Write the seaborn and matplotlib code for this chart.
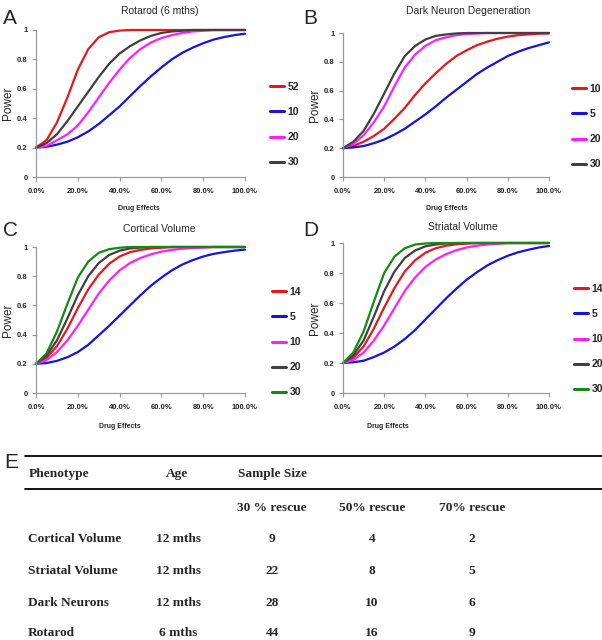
import numpy as np
import pandas as pd
import matplotlib
matplotlib.use("Agg")
import matplotlib.pyplot as plt
import seaborn as sns
from matplotlib.ticker import FuncFormatter
from matplotlib.lines import Line2D

# drug effect (fraction rescued), read every 5 %
effects = [0.00, 0.05, 0.10, 0.15, 0.20, 0.25, 0.30, 0.35, 0.40, 0.45, 0.50,
           0.55, 0.60, 0.65, 0.70, 0.75, 0.80, 0.85, 0.90, 0.95, 1.00]

# A: Rotarod (6 mths)
rot_52 = [0.20, 0.25, 0.37, 0.54, 0.73, 0.87, 0.95, 0.985, 0.996, 1.0, 1.0,
          1.0, 1.0, 1.0, 1.0, 1.0, 1.0, 1.0, 1.0, 1.0, 1.0]
rot_10 = [0.20, 0.205, 0.22, 0.24, 0.27, 0.31, 0.36, 0.42, 0.48, 0.55, 0.62,
          0.685, 0.745, 0.80, 0.845, 0.88, 0.91, 0.935, 0.952, 0.965, 0.975]
rot_20 = [0.20, 0.21, 0.25, 0.29, 0.35, 0.44, 0.54, 0.64, 0.73, 0.81, 0.87,
          0.915, 0.945, 0.965, 0.98, 0.99, 0.995, 1.0, 1.0, 1.0, 1.0]
rot_30 = [0.20, 0.23, 0.29, 0.38, 0.48, 0.58, 0.68, 0.77, 0.84, 0.89, 0.93,
          0.96, 0.98, 0.99, 0.995, 1.0, 1.0, 1.0, 1.0, 1.0, 1.0]

# B: Dark Neuron Degeneration
dark_10 = [0.20, 0.215, 0.245, 0.285, 0.335, 0.405, 0.48, 0.57, 0.65, 0.72, 0.785,
           0.84, 0.88, 0.915, 0.94, 0.96, 0.975, 0.985, 0.99, 0.995, 0.997]
dark_5 = [0.20, 0.205, 0.215, 0.235, 0.26, 0.295, 0.335, 0.385, 0.435, 0.49, 0.55,
          0.605, 0.66, 0.715, 0.76, 0.80, 0.84, 0.87, 0.895, 0.915, 0.935]
dark_20 = [0.20, 0.23, 0.29, 0.38, 0.49, 0.63, 0.76, 0.85, 0.91, 0.95, 0.97,
           0.985, 0.993, 0.997, 1.0, 1.0, 1.0, 1.0, 1.0, 1.0, 1.0]
dark_30 = [0.20, 0.245, 0.32, 0.44, 0.58, 0.72, 0.84, 0.91, 0.955, 0.98, 0.99,
           0.997, 1.0, 1.0, 1.0, 1.0, 1.0, 1.0, 1.0, 1.0, 1.0]

# C: Cortical Volume
cort_14 = [0.20, 0.24, 0.32, 0.44, 0.58, 0.71, 0.81, 0.885, 0.935, 0.965, 0.98,
           0.99, 0.995, 1.0, 1.0, 1.0, 1.0, 1.0, 1.0, 1.0, 1.0]
cort_5 = [0.20, 0.205, 0.22, 0.245, 0.28, 0.33, 0.395, 0.46, 0.53, 0.60, 0.67,
          0.735, 0.79, 0.84, 0.88, 0.91, 0.935, 0.953, 0.965, 0.975, 0.982]
cort_10 = [0.20, 0.225, 0.28, 0.36, 0.46, 0.57, 0.68, 0.77, 0.84, 0.89, 0.925,
           0.95, 0.968, 0.98, 0.988, 0.993, 0.996, 1.0, 1.0, 1.0, 1.0]
cort_20 = [0.20, 0.255, 0.36, 0.51, 0.67, 0.80, 0.89, 0.945, 0.975, 0.99, 0.996,
           1.0, 1.0, 1.0, 1.0, 1.0, 1.0, 1.0, 1.0, 1.0, 1.0]
cort_30 = [0.20, 0.27, 0.42, 0.61, 0.79, 0.90, 0.96, 0.985, 0.995, 1.0, 1.0,
           1.0, 1.0, 1.0, 1.0, 1.0, 1.0, 1.0, 1.0, 1.0, 1.0]

# D: Striatal Volume
stri_14 = [0.20, 0.235, 0.31, 0.43, 0.57, 0.70, 0.81, 0.885, 0.935, 0.965, 0.982,
           0.991, 0.996, 1.0, 1.0, 1.0, 1.0, 1.0, 1.0, 1.0, 1.0]
stri_5 = [0.20, 0.205, 0.215, 0.24, 0.27, 0.31, 0.36, 0.42, 0.49, 0.56, 0.63,
          0.695, 0.755, 0.805, 0.85, 0.885, 0.915, 0.938, 0.955, 0.97, 0.98]
stri_10 = [0.20, 0.22, 0.27, 0.35, 0.45, 0.565, 0.68, 0.77, 0.84, 0.89, 0.925,
           0.952, 0.97, 0.982, 0.99, 0.995, 1.0, 1.0, 1.0, 1.0, 1.0]
stri_20 = [0.20, 0.25, 0.35, 0.51, 0.68, 0.81, 0.90, 0.95, 0.978, 0.99, 0.997,
           1.0, 1.0, 1.0, 1.0, 1.0, 1.0, 1.0, 1.0, 1.0, 1.0]
stri_30 = [0.20, 0.27, 0.41, 0.61, 0.80, 0.91, 0.965, 0.99, 0.997, 1.0, 1.0,
           1.0, 1.0, 1.0, 1.0, 1.0, 1.0, 1.0, 1.0, 1.0, 1.0]

# E: table
phenotypes = ["Cortical Volume", "Striatal Volume", "Dark Neurons", "Rotarod"]
ages = ["12 mths", "12 mths", "12 mths", "6 mths"]
rescue_labels = ["30 % rescue", "50% rescue", "70% rescue"]
rescue_30 = [9, 22, 28, 44]
rescue_50 = [4, 8, 10, 16]
rescue_70 = [2, 5, 6, 9]

RED, BLUE, MAG, GRAY, GREEN = "#e8161e", "#1414e0", "#ff1eff", "#404040", "#138a13"

panels = [
    dict(letter="A", title="Rotarod (6 mths)",
         series=[("52", rot_52, RED), ("10", rot_10, BLUE), ("20", rot_20, MAG), ("30", rot_30, GRAY)],
         box=(36, 30, 245, 177), title_xy=(160, 11), letter_xy=(3, 19), xlab_xy=(139, 209),
         leg_xy=(270, 82)),
    dict(letter="B", title="Dark Neuron Degeneration",
         series=[("10", dark_10, RED), ("5", dark_5, BLUE), ("20", dark_20, MAG), ("30", dark_30, GRAY)],
         box=(343, 33, 549, 177), title_xy=(468, 11), letter_xy=(303, 19), xlab_xy=(447, 209),
         leg_xy=(572, 84)),
    dict(letter="C", title="Cortical Volume",
         series=[("14", cort_14, RED), ("5", cort_5, BLUE), ("10", cort_10, MAG),
                 ("20", cort_20, GRAY), ("30", cort_30, GREEN)],
         box=(36, 247, 245, 393), title_xy=(159, 229), letter_xy=(3, 231), xlab_xy=(120, 426),
         leg_xy=(272, 287)),
    dict(letter="D", title="Striatal Volume",
         series=[("14", stri_14, RED), ("5", stri_5, BLUE), ("10", stri_10, MAG),
                 ("20", stri_20, GRAY), ("30", stri_30, GREEN)],
         box=(343, 243, 549, 393), title_xy=(463, 227), letter_xy=(303, 230), xlab_xy=(388, 426),
         leg_xy=(574, 284)),
]

sns.set_theme(style="white")
plt.rcParams["font.family"] = ["Liberation Sans", "DejaVu Sans"]

W, H = 602, 640
fig = plt.figure(figsize=(W / 100, H / 100), dpi=100)
fig.patch.set_facecolor("white")


def fx(px):
    return px / W


def fy(py):
    return 1 - py / H


for p in panels:
    x0, y0, x1, y1 = p["box"]
    ax = fig.add_axes([fx(x0), fy(y1), fx(x1) - fx(x0), fy(y0) - fy(y1)])
    frames = []
    for label, vals, color in p["series"]:
        frames.append(pd.DataFrame({"effect": effects, "power": vals, "n": label}))
    df = pd.concat(frames, ignore_index=True)
    palette = {label: color for label, _, color in p["series"]}
    hue_order = [label for label, _, _ in p["series"]]
    sns.lineplot(data=df, x="effect", y="power", hue="n", hue_order=hue_order,
                 palette=palette, linewidth=1.6, ax=ax, legend=False, clip_on=False)

    ax.set_xlim(0, 1)
    ax.set_ylim(0, 1)
    ax.set_xticks([0, 0.2, 0.4, 0.6, 0.8, 1.0])
    ax.set_yticks([0, 0.2, 0.4, 0.6, 0.8, 1.0])
    ax.xaxis.set_major_formatter(FuncFormatter(lambda v, _: f"{v * 100:.1f}%"))
    ax.yaxis.set_major_formatter(FuncFormatter(lambda v, _: f"{v:g}"))
    ax.tick_params(axis="both", labelsize=5.5, length=3, width=0.8, color="#999999",
                   direction="out", bottom=True, left=True, pad=3)
    ax.tick_params(axis="x", pad=5)
    for t in ax.get_xticklabels() + ax.get_yticklabels():
        t.set_fontweight("bold")
    ax.set_xlabel("")
    ax.set_ylabel("Power", fontsize=8.5, labelpad=2)
    for s in ["top", "right"]:
        ax.spines[s].set_visible(False)
    for s in ["left", "bottom"]:
        ax.spines[s].set_color("#999999")
        ax.spines[s].set_linewidth(0.9)
    ax.set_facecolor("none")

    handles = [Line2D([], [], color=c, lw=2.2) for _, _, c in p["series"]]
    lx, ly = p["leg_xy"]
    fig.legend(handles, hue_order, loc="upper left",
               bbox_to_anchor=(fx(lx), fy(ly)), bbox_transform=fig.transFigure,
               frameon=False, borderpad=0, borderaxespad=0, handlelength=1.3,
               handletextpad=0.4, labelspacing=1.45,
               prop={"size": 7.5, "weight": "bold"})

    tx, ty = p["title_xy"]
    fig.text(fx(tx), fy(ty), p["title"], ha="center", va="center", fontsize=7.5)
    lx, ly = p["letter_xy"]
    fig.text(fx(lx), fy(ly), p["letter"], ha="left", va="center", fontsize=15)
    dx, dy = p["xlab_xy"]
    fig.text(fx(dx), fy(dy), "Drug Effects", ha="center", va="center", fontsize=5,
             fontweight="bold")

# table panel E, drawn in pixel coordinates
tab = fig.add_axes([0, 0, 1, 1])
tab.set_xlim(0, W)
tab.set_ylim(H, 0)
tab.axis("off")
tab.set_facecolor("none")
serif = dict(family=["Liberation Serif", "DejaVu Serif"], fontweight="bold", fontsize=9.6)

tab.text(4, 463, "E", ha="left", va="center", fontsize=15, family=["Liberation Sans"])
tab.plot([25, 602], [456, 456], color="black", lw=1.3)
tab.plot([25, 602], [489, 489], color="black", lw=1.3)
tab.text(29, 474, "Phenotype", ha="left", va="center", **serif)
tab.text(177, 474, "Age", ha="center", va="center", **serif)
tab.text(238, 474, "Sample Size", ha="left", va="center", **serif)

col_x = [272, 372, 472]
for cx, lab in zip(col_x, rescue_labels):
    tab.text(cx, 508, lab, ha="center", va="center", **serif)

row_y = [539, 571, 603, 633]
cols = [rescue_30, rescue_50, rescue_70]
for i, ry in enumerate(row_y):
    tab.text(28, ry, phenotypes[i], ha="left", va="center", **serif)
    tab.text(178, ry, ages[i], ha="center", va="center", **serif)
    for cx, col in zip(col_x, cols):
        tab.text(cx, ry, str(col[i]), ha="center", va="center", **serif)

fig.savefig("out.png", dpi=100, facecolor="white")
